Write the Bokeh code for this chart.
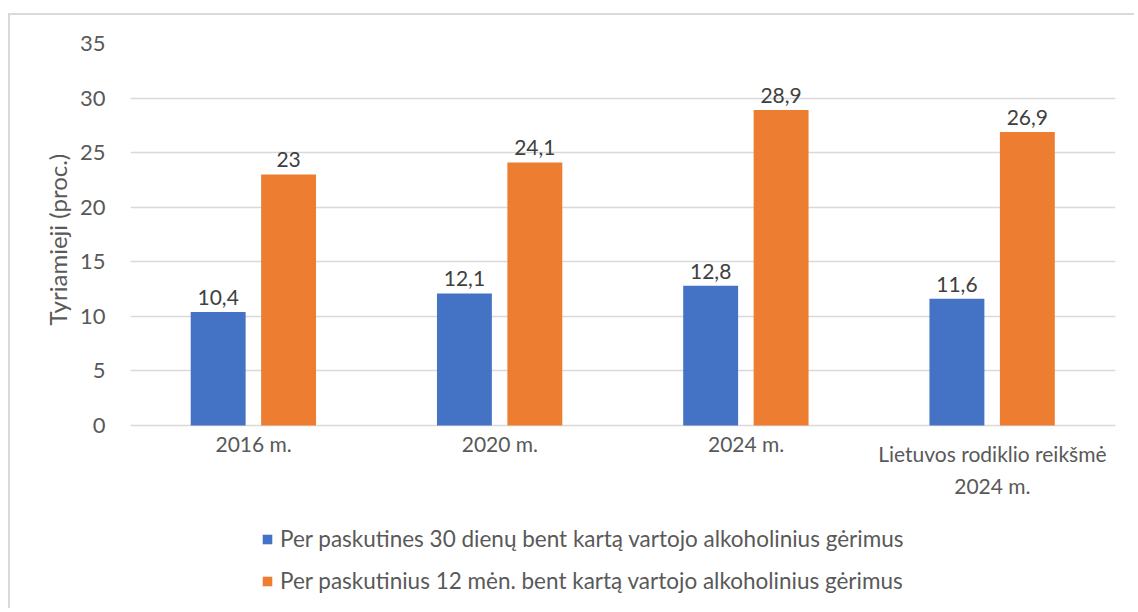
from bokeh.plotting import figure
from bokeh.models import ColumnDataSource, Range1d, FixedTicker, Legend, LegendItem, LabelSet, Title
from bokeh.core.properties import value
from bokeh.embed import file_html
from bokeh.resources import INLINE

categories = ["2016 m.", "2020 m.", "2024 m.", "Lietuvos rodiklio reikšmė\n2024 m."]
series_30d = [10.4, 12.1, 12.8, 11.6]
series_12m = [23, 24.1, 28.9, 26.9]
legend_30d = "Per paskutines 30 dienų bent kartą vartojo alkoholinius gėrimus"
legend_12m = "Per paskutinius 12 mėn. bent kartą vartojo alkoholinius gėrimus"
y_title = "Tyriamieji (proc.)"
y_ticks = [0, 5, 10, 15, 20, 25, 30, 35]

FONT = "Lato"
BLUE = "#4472C4"
ORANGE = "#ED7D31"
TXT = "#595959"

centers = [i + 0.5 for i in range(len(categories))]
fmt = lambda v: (f"{v:g}").replace(".", ",")

src30 = ColumnDataSource(dict(x=[c - 0.144 for c in centers], y=series_30d,
                              lab=[fmt(v) for v in series_30d]))
src12 = ColumnDataSource(dict(x=[c + 0.142 for c in centers], y=series_12m,
                              lab=[fmt(v) for v in series_12m]))
single = [i for i, c in enumerate(categories) if "\n" not in c]
multi = [i for i, c in enumerate(categories) if "\n" in c]
srccat1 = ColumnDataSource(dict(x=[centers[i] for i in single], y=[0] * len(single),
                                lab=[categories[i] for i in single]))
srccat2 = ColumnDataSource(dict(x=[centers[i] for i in multi], y=[0] * len(multi),
                                lab=[categories[i] for i in multi]))

p = figure(width=1126, height=595, output_backend="svg", toolbar_location=None,
           x_range=Range1d(0, 4), y_range=Range1d(-16.5, 35),
           min_border_left=120, min_border_right=21, min_border_top=28, min_border_bottom=5)
p.margin = (13, 0, 0, 8)
p.styles = {"border-top": "2px solid #d9d9d9", "border-left": "2px solid #d9d9d9"}
p.outline_line_color = None
p.background_fill_color = "white"
p.border_fill_color = "white"

r30 = p.vbar(x="x", top="y", width=0.223, source=src30, fill_color=BLUE, line_color=None)
r12 = p.vbar(x="x", top="y", width=0.223, source=src12, fill_color=ORANGE, line_color=None)

for s in (src30, src12):
    p.add_layout(LabelSet(x="x", y="y", text="lab", source=s, text_align="center",
                          text_baseline="bottom", y_offset=7, text_font=value(FONT),
                          text_font_size="21px", text_color="#404040"))

p.text(x="x", y="y", text="lab", source=srccat1, text_align="center", text_baseline="top",
       y_offset=6, text_font=value(FONT), text_font_size="21px", text_color=TXT)
p.text(x="x", y="y", text="lab", source=srccat2, text_align="center", text_baseline="top",
       y_offset=16, text_font=value(FONT), text_font_size="21px", text_color=TXT,
       text_line_height=1.28)

p.xaxis.visible = False
p.xgrid.grid_line_color = None
p.ygrid.grid_line_color = "#d9d9d9"
p.ygrid.grid_line_width = 1.5
p.yaxis.ticker = FixedTicker(ticks=y_ticks)

ax = p.yaxis[0]
ax.axis_line_color = None
ax.major_tick_line_color = None
ax.minor_tick_line_color = None
ax.major_label_text_font = FONT
ax.major_label_text_font_size = "22px"
ax.major_label_text_color = TXT
ax.major_label_standoff = 19

ytitle = Title(text=y_title, align="left", offset=280, standoff=10,
               text_font=FONT, text_font_size="24px", text_font_style="normal",
               text_color=TXT)
p.add_layout(ytitle, "left")

legend = Legend(items=[LegendItem(label=legend_30d, renderers=[r30]),
                       LegendItem(label=legend_12m, renderers=[r12])],
                location=(131, 11), orientation="vertical",
                glyph_width=12, glyph_height=12, label_standoff=7,
                label_height=20, spacing=15, padding=0, margin=0,
                border_line_color=None, background_fill_alpha=0,
                label_text_font=FONT, label_text_font_size="22.5px", label_text_color=TXT)
p.add_layout(legend, "center")

open("out.html", "w").write(file_html(p, INLINE))
